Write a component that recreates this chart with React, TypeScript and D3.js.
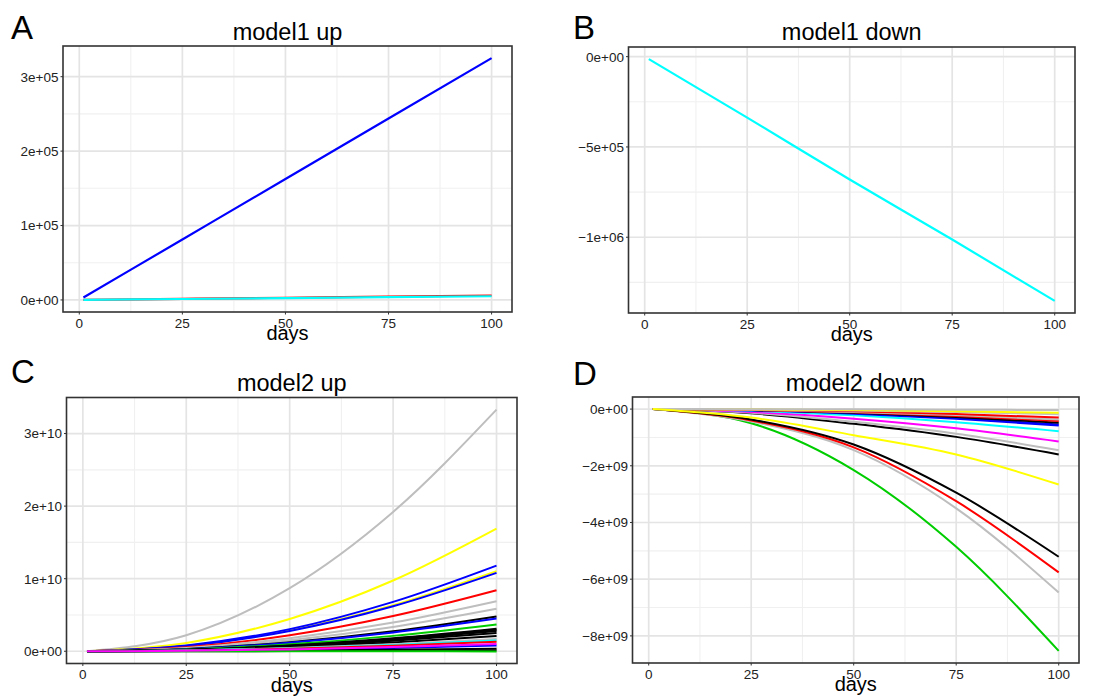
import React from "react";
import * as d3 from "d3";

const days = [1, 25, 50, 75, 100];
const xTicks = [0, 25, 50, 75, 100];

const C_BLACK = "#000000";
const C_RED = "#FF0000";
const C_GREEN = "#00CD00";
const C_BLUE = "#0000FF";
const C_CYAN = "#00FFFF";
const C_MAGENTA = "#FF00FF";
const C_YELLOW = "#FFFF00";
const C_GRAY = "#BEBEBE";

// model1 up (raw values)
const m1UpColors = [C_RED, C_BLUE, C_CYAN];
const m1UpValues = [
  [60, 1450, 2950, 4450, 6000],
  [3250, 81250, 162500, 243750, 325000],
  [50, 1250, 2500, 3750, 5000],
];
const m1UpTicks = [0, 1e5, 2e5, 3e5];

// model1 down (raw values)
const m1DownColors = [C_CYAN];
const m1DownValues = [[-13500, -337500, -680000, -1012500, -1352500]];
const m1DownTicks = [0, -5e5, -1e6];

// model2 up (units of 1e9)
const m2UpColors = [
  C_GRAY, C_YELLOW, C_YELLOW, C_BLUE, C_BLUE, C_RED, C_GRAY, C_GRAY, C_BLACK, C_BLUE,
  C_GREEN, C_BLACK, C_BLACK, C_BLACK, C_BLACK, C_BLACK, C_GRAY, C_CYAN, C_RED, C_BLUE,
  C_BLACK, C_BLACK, C_GREEN, C_MAGENTA,
];
const m2UpValues = [
  [0, 2.2, 8.7, 19.2, 33.3],
  [0, 1.15, 4.45, 9.75, 16.9],
  [0, 0.74, 2.88, 6.35, 11.05],
  [0, 0.8, 3.05, 6.8, 11.8],
  [0, 0.72, 2.8, 6.2, 10.8],
  [0, 0.55, 2.2, 4.85, 8.4],
  [0, 0.45, 1.8, 3.95, 6.9],
  [0, 0.38, 1.52, 3.35, 5.85],
  [0, 0.31, 1.25, 2.75, 4.8],
  [0, 0.29, 1.17, 2.58, 4.5],
  [0, 0.24, 0.96, 2.12, 3.7],
  [0, 0.2, 0.8, 1.78, 3.1],
  [0, 0.19, 0.76, 1.7, 2.95],
  [0, 0.18, 0.73, 1.6, 2.8],
  [0, 0.16, 0.65, 1.44, 2.5],
  [0, 0.14, 0.55, 1.2, 2.1],
  [0, 0.11, 0.44, 0.98, 1.7],
  [0, 0.1, 0.39, 0.86, 1.5],
  [0, 0.085, 0.34, 0.75, 1.3],
  [0, 0.05, 0.21, 0.46, 0.8],
  [0, 0.02, 0.09, 0.2, 0.35],
  [0, 0.007, 0.026, 0.06, 0.1],
  [0, 0, -0.005, -0.01, -0.02],
  [0, 0.065, 0.26, 0.58, 1.0],
];
const m2UpTicks = [0, 10, 20, 30];

// model2 down (units of 1e9)
const m2DownColors = [
  C_GREEN, C_GRAY, C_RED, C_BLACK, C_BLACK, C_GRAY, C_MAGENTA, C_CYAN, C_BLUE, C_BLUE,
  C_BLACK, C_RED, C_GRAY, C_RED, C_GRAY, C_YELLOW, C_GRAY, C_YELLOW,
];
const m2DownValues = [
  [0, -0.5, -2.15, -4.86, -8.53],
  [0, -0.44, -1.45, -3.5, -6.47],
  [0, -0.4, -1.35, -3.25, -5.76],
  [0, -0.37, -1.25, -2.95, -5.21],
  [0, -0.15, -0.52, -0.98, -1.6],
  [0, -0.13, -0.45, -0.87, -1.45],
  [0, -0.1, -0.34, -0.68, -1.14],
  [0, -0.06, -0.22, -0.46, -0.78],
  [0, -0.045, -0.16, -0.34, -0.58],
  [0, -0.04, -0.14, -0.31, -0.54],
  [0, -0.035, -0.13, -0.28, -0.48],
  [0, -0.03, -0.11, -0.24, -0.42],
  [0, -0.025, -0.1, -0.21, -0.37],
  [0, -0.02, -0.08, -0.17, -0.3],
  [0, -0.012, -0.05, -0.1, -0.18],
  [0, -0.01, -0.035, -0.075, -0.13],
  [0, -0.002, -0.009, -0.02, -0.035],
  [0, -0.3, -0.92, -1.6, -2.66],
];
const m2DownTicks = [0, -2, -4, -6, -8];

const FONT = "'Liberation Sans', Arial, sans-serif";

function fmtSci(v: number) {
  const s = v.toExponential(0); // e.g. "3e+5"
  const m = s.match(/^(-?\d)e([+-])(\d+)$/);
  if (!m) return s;
  const exp = m[3].padStart(2, "0");
  return (m[1].startsWith("-") ? "\u2212" + m[1].slice(1) : m[1]) + "e" + m[2] + exp;
}

type PanelProps = {
  letter: string;
  letterY: number;
  title: string;
  titleY: number;
  x0: number;
  x1: number;
  y0: number;
  y1: number;
  values: number[][];
  colors: string[];
  yTicks: number[];
  unit: number;
  lineWidth: number;
  letterX: number;
};

function Panel(p: PanelProps) {
  const ext = d3.extent(p.values.flat()) as [number, number];
  const pad = (ext[1] - ext[0]) * 0.05;
  const y = d3.scaleLinear().domain([ext[0] - pad, ext[1] + pad]).range([p.y1, p.y0]);
  const x = d3.scaleLinear().domain([1 - 4.95, 100 + 4.95]).range([p.x0, p.x1]);
  const line = d3
    .line<number>()
    .x((_, i) => x(days[i]))
    .y((d) => y(d))
    .curve(d3.curveMonotoneX);

  const step = p.yTicks[1] - p.yTicks[0];
  const yMinor: number[] = [];
  for (let k = -20; k <= 20; k++) {
    const v = p.yTicks[0] + (k + 0.5) * step;
    if (y(v) > p.y0 && y(v) < p.y1) yMinor.push(v);
  }
  const xMinor = [12.5, 37.5, 62.5, 87.5];
  const clipId = "clip-" + p.letter;
  const cx = (p.x0 + p.x1) / 2;

  return (
    <g>
      <defs>
        <clipPath id={clipId}>
          <rect x={p.x0} y={p.y0} width={p.x1 - p.x0} height={p.y1 - p.y0} />
        </clipPath>
      </defs>
      <text x={p.letterX} y={p.letterY} fontSize={33} fontFamily={FONT} fill="#000">
        {p.letter}
      </text>
      <text x={cx} y={p.titleY} fontSize={23.5} fontFamily={FONT} textAnchor="middle" fill="#000">
        {p.title}
      </text>
      <rect x={p.x0} y={p.y0} width={p.x1 - p.x0} height={p.y1 - p.y0} fill="#fff" />
      <g clipPath={`url(#${clipId})`}>
        {xMinor.map((t) => (
          <line key={"xm" + t} x1={x(t)} x2={x(t)} y1={p.y0} y2={p.y1} stroke="#f0f0f0" strokeWidth={1.1} />
        ))}
        {yMinor.map((t) => (
          <line key={"ym" + t} x1={p.x0} x2={p.x1} y1={y(t)} y2={y(t)} stroke="#f0f0f0" strokeWidth={1.1} />
        ))}
        {xTicks.map((t) => (
          <line key={"xg" + t} x1={x(t)} x2={x(t)} y1={p.y0} y2={p.y1} stroke="#e4e4e4" strokeWidth={1.7} />
        ))}
        {p.yTicks.map((t) => (
          <line key={"yg" + t} x1={p.x0} x2={p.x1} y1={y(t)} y2={y(t)} stroke="#e4e4e4" strokeWidth={1.7} />
        ))}
        {p.values.map((s, i) => (
          <path key={i} d={line(s) || ""} fill="none" stroke={p.colors[i]} strokeWidth={p.lineWidth} />
        ))}
      </g>
      <rect
        x={p.x0}
        y={p.y0}
        width={p.x1 - p.x0}
        height={p.y1 - p.y0}
        fill="none"
        stroke="#333"
        strokeWidth={1.6}
      />
      {p.yTicks.map((t) => (
        <g key={"yt" + t}>
          <line x1={p.x0 - 2.5} x2={p.x0} y1={y(t)} y2={y(t)} stroke="#333" strokeWidth={1} />
          <text
            x={p.x0 - 4.5}
            y={y(t)}
            dy="0.36em"
            textAnchor="end"
            fontSize={13.5}
            fontFamily={FONT}
            fill="#222"
          >
            {fmtSci(t * p.unit)}
          </text>
        </g>
      ))}
      {xTicks.map((t) => (
        <g key={"xt" + t}>
          <line x1={x(t)} x2={x(t)} y1={p.y1} y2={p.y1 + 2.5} stroke="#333" strokeWidth={1} />
          <text x={x(t)} y={p.y1 + 15.5} textAnchor="middle" fontSize={13.5} fontFamily={FONT} fill="#222">
            {t}
          </text>
        </g>
      ))}
      <text x={cx} y={p.y1 + 28} textAnchor="middle" fontSize={20} fontFamily={FONT} fill="#000">
        days
      </text>
    </g>
  );
}

export default function App() {
  return (
    <svg
      width={1120}
      height={697}
      style={{ position: "absolute", left: 0, top: 0, background: "#fff" }}
    >
      <rect width={1120} height={697} fill="#fff" />
      <Panel
        letter="A" letterX={11} letterY={39} title="model1 up" titleY={39.5}
        x0={63} x1={512} y0={46} y1={312}
        values={m1UpValues} colors={m1UpColors} yTicks={m1UpTicks} unit={1} lineWidth={2.2}
      />
      <Panel
        letter="B" letterX={573} letterY={39} title="model1 down" titleY={39.5}
        x0={628.5} x1={1075} y0={47} y1={313}
        values={m1DownValues} colors={m1DownColors} yTicks={m1DownTicks} unit={1} lineWidth={2.2}
      />
      <Panel
        letter="C" letterX={11} letterY={383} title="model2 up" titleY={390.5}
        x0={66.5} x1={517} y0={397.5} y1={663.5}
        values={m2UpValues} colors={m2UpColors} yTicks={m2UpTicks} unit={1e9} lineWidth={2}
      />
      <Panel
        letter="D" letterX={573} letterY={385} title="model2 down" titleY={390.5}
        x0={632.5} x1={1079} y0={397} y1={663}
        values={m2DownValues} colors={m2DownColors} yTicks={m2DownTicks} unit={1e9} lineWidth={2}
      />
    </svg>
  );
}
